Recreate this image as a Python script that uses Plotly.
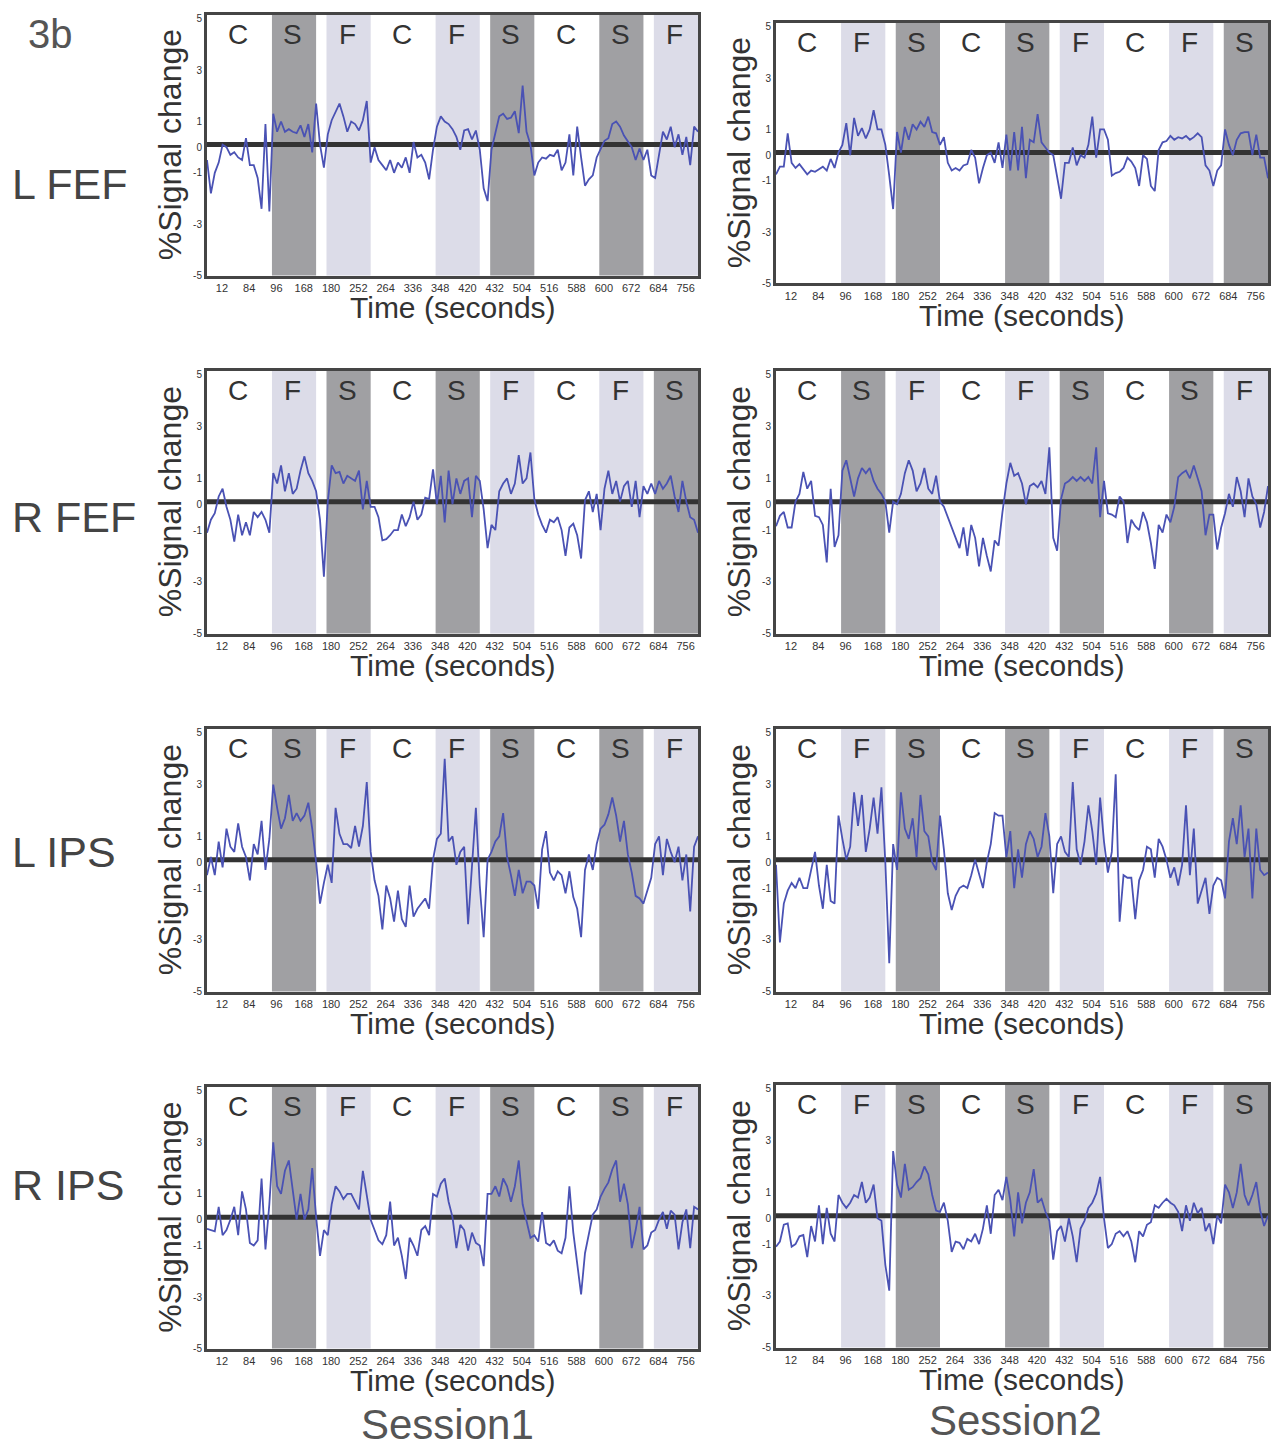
import numpy as np
import plotly.graph_objects as go

W, H = 1285, 1450

# ---------------- data ----------------
time_s = np.arange(0, 757, 6)  # sample times (s)

block_start = [12, 96, 180, 264, 348, 432, 516, 600, 684]
block_end = [84, 168, 252, 336, 420, 504, 588, 672, 756]
tick_labels = ["12", "84", "96", "168", "180", "252", "264", "336", "348",
               "420", "432", "504", "516", "588", "600", "672", "684", "756"]
y_ticks = [-5, -3, -1, 0, 1, 3, 5]

order_A = ["C", "S", "F", "C", "F", "S", "C", "S", "F"]
order_B = ["C", "F", "S", "C", "S", "F", "C", "F", "S"]

regions = ["L FEF", "R FEF", "L IPS", "R IPS"]
sessions = ["Session1", "Session2"]

lfef_s1 = [-0.5, -1.8, -1.0, -0.6, 0.1, 0.0, -0.3, -0.2, -0.4, -0.5,
           0.35, -0.7, -0.7, -1.2, -2.4, 0.9, -2.5, 1.3, 0.6, 1.0,
           0.6, 0.7, 0.6, 0.55, 0.85, 0.4, 0.9, -0.2, 1.7, 0.1,
           -0.8, 0.5, 1.05, 1.4, 1.7, 1.2, 0.6, 1.0, 0.9, 0.65,
           1.05, 1.8, -0.6, 0.0, -0.5, -0.7, -0.9, -0.5, -1.0, -0.6,
           -0.8, -0.4, -1.0, 0.2, -0.4, -0.3, -0.6, -1.25, -0.1, 0.8,
           1.2, 1.0, 0.9, 0.7, 0.4, -0.1, 0.65, 0.7, 0.3, 0.65,
           -0.1, -1.6, -2.1, -0.1, 0.6, 1.2, 1.3, 1.1, 1.15, 1.4,
           0.55, 2.4, 0.6, 0.1, -1.1, -0.6, -0.4, -0.45, -0.3, -0.35,
           -0.1, -0.9, -0.6, 0.5, -1.1, 0.8, -0.4, -1.5, -1.25, -1.1,
           -0.4, -0.1, 0.25, 0.35, 0.9, 1.0, 0.8, 0.45, 0.2, 0.0,
           -0.5, -0.05, -0.5, -0.1, -1.1, -1.2, -0.3, 0.6, 0.3, 0.8,
           0.0, 0.5, -0.3, 0.4, -0.7, 0.8, 0.6]

lfef_s2 = [-0.75, -0.45, -0.45, 0.85, -0.3, -0.5, -0.35, -0.55, -0.75, -0.6,
           -0.65, -0.55, -0.45, -0.6, -0.15, -0.5, 0.1, 0.4, 1.25, 0.0,
           1.45, 0.75, 1.05, 0.65, 1.0, 1.75, 1.0, 1.0, 0.4, -0.8,
           -2.1, 0.9, 0.1, 1.1, 0.6, 1.2, 1.0, 1.3, 1.1, 1.5,
           0.9, 0.85, 0.4, 0.7, -0.3, -0.6, -0.5, -0.6, -0.4, -0.35,
           0.2, -0.1, -1.1, -0.5, 0.0, 0.1, -0.3, 0.5, -0.5, 0.8,
           -0.6, 0.9, -0.6, 1.1, -0.9, 0.6, 0.5, 1.6, 0.5, 0.3,
           0.1, 0.0, -0.9, -1.7, -0.3, -0.3, 0.3, -0.4, 0.0, -0.1,
           0.4, 1.5, -0.1, 1.0, 1.0, 0.6, -0.8, -0.7, -0.65, -0.5,
           -0.1, -0.25, -0.5, -1.2, 0.0, -0.15, -1.2, -1.4, 0.2, 0.5,
           0.55, 0.75, 0.6, 0.7, 0.65, 0.75, 0.6, 0.7, 0.85, 0.7,
           -0.4, -0.6, -1.2, -0.6, -0.4, 1.0, 0.4, 0.0, 0.6, 0.85,
           0.9, 0.9, 0.0, 0.8, -0.1, -0.1, -0.9]

rfef_s1 = [-1.1, -0.6, -0.35, 0.3, 0.6, -0.1, -0.6, -1.45, -0.4, -1.2,
           -0.7, -1.2, -0.3, -0.5, -0.3, -0.6, -1.1, 1.2, 0.8, 1.5,
           0.5, 1.2, 0.4, 0.6, 1.3, 1.85, 1.2, 0.9, 0.5, -0.6,
           -2.8, 0.1, 1.5, 1.2, 1.25, 0.8, 1.1, 1.0, 0.9, 1.3,
           -0.2, 0.9, -0.1, -0.1, -0.5, -1.4, -1.35, -1.2, -1.0, -1.0,
           -0.4, -0.85, -0.5, 0.1, -0.6, -0.4, 0.25, 0.2, 1.35, 0.0,
           1.1, -0.7, 1.3, 0.0, 1.0, 0.4, 0.9, 1.0, -0.5, 1.1,
           0.9, -0.2, -1.7, -0.8, -1.0, 0.5, 0.8, 1.0, 0.4, 0.8,
           1.9, 0.8, 1.0, 2.0, 0.2, -0.4, -0.8, -1.1, -0.6, -0.7,
           -0.5, -1.0, -2.0, -0.9, -0.75, -1.2, -2.1, 0.15, 0.5, -0.3,
           0.4, -1.0, 0.6, 1.3, 0.4, 0.9, 0.1, 0.7, 0.9, -0.1,
           0.9, -0.5, 0.7, 0.4, 0.8, 0.4, 0.9, 0.6, 0.8, 1.1,
           0.3, -0.3, 0.9, 0.1, -0.5, -0.6, -1.1]

rfef_s2 = [-0.85, -0.45, -0.3, -0.9, -0.9, 0.1, 0.4, 1.25, 0.6, 0.9,
           -0.45, -0.5, -0.8, -2.25, 0.6, -1.65, -1.2, 1.3, 1.7, 1.0,
           0.3, 1.0, 1.4, 1.2, 1.4, 0.9, 0.6, 0.4, 0.1, -1.1,
           0.1, 0.0, 0.4, 1.2, 1.7, 1.3, 0.5, 0.8, 1.4, 0.6,
           0.4, 1.1, 0.1, -0.1, -0.5, -0.9, -1.35, -1.7, -0.9, -2.0,
           -0.8, -1.3, -2.4, -1.3, -2.0, -2.6, -1.4, -1.6, -0.3, 0.8,
           1.6, 1.1, 1.2, 0.8, 0.0, 0.7, 0.8, 0.65, 0.9, 0.4,
           2.2, -1.3, -1.8, 0.2, 0.8, 0.9, 1.05, 0.9, 1.05, 0.9,
           1.05, 0.8, 2.2, -0.5, 0.9, -0.35, -0.4, -0.5, 0.3, 0.1,
           -1.5, -0.6, -0.85, -1.0, -0.3, -0.7, -1.5, -2.5, -0.8, -1.1,
           -0.4, -0.7, -0.1, 1.05, 1.2, 1.3, 1.0, 1.5, 1.0, 0.5,
           -1.2, -0.4, -0.4, -1.75, -0.9, -0.35, 0.4, -0.1, 1.05, 0.5,
           -0.5, 1.0, 0.3, 0.0, -0.9, -0.3, 0.7]

lips_s1 = [-0.5, 0.2, -0.5, 0.8, -0.2, 1.3, 0.6, 0.4, 1.5, 0.6,
           0.2, -0.7, 0.7, 0.3, 1.6, -0.3, 0.9, 3.0, 2.1, 1.3,
           1.7, 2.6, 1.6, 1.9, 1.6, 1.8, 2.3, 1.3, 0.0, -1.6,
           -0.8, -0.1, -0.8, 2.1, 1.1, 0.7, 0.7, 0.55, 1.4, 0.6,
           1.4, 3.1, 0.4, -0.7, -1.3, -2.6, -0.9, -1.4, -2.3, -1.1,
           -2.2, -2.5, -0.9, -2.1, -1.8, -1.6, -1.4, -1.8, 0.1, 0.9,
           1.1, 4.0, 0.8, 1.0, -0.1, 0.4, 0.6, -2.4, -0.3, 2.1,
           -0.9, -2.9, 0.1, 0.4, 0.8, 1.0, 1.9, 0.2, -0.5, -1.3,
           -0.3, -1.2, -0.75, -0.75, -0.9, -1.8, 0.5, 1.2, -0.4, -0.7,
           -0.35, -0.5, -1.2, -0.35, -1.35, -1.8, -2.9, -0.3, 0.3, -0.3,
           0.7, 1.3, 1.45, 1.85, 2.5, 1.8, 0.8, 1.6, 0.3, -0.4,
           -1.3, -1.4, -1.6, -1.1, -0.6, 0.7, 1.0, -0.5, 0.9, 0.4,
           0.0, 0.6, -0.7, 0.3, -1.9, 0.6, 1.0]

lips_s2 = [-0.1, -3.1, -1.6, -1.1, -0.8, -1.0, -0.6, -1.0, -1.0, -0.3,
           0.4, -0.9, -1.8, -0.1, -1.5, -1.6, 1.8, 0.9, 0.1, 0.6,
           2.7, 1.4, 2.6, 0.4, 1.3, 2.5, 1.1, 2.9, 0.0, -3.9,
           0.7, -0.3, 2.7, 1.3, 0.9, 1.7, 0.2, 2.6, 1.2, 1.0,
           0.0, -0.3, 1.8, 0.5, -1.2, -1.85, -1.3, -1.0, -0.9, -1.0,
           -0.5, 0.1, -0.5, -1.0, 0.0, 0.7, 1.9, 1.8, 1.8, 0.2,
           1.2, -1.0, 0.5, -0.6, 0.7, 1.2, 0.9, 0.2, 0.6, 1.9,
           1.0, -1.2, 0.7, 1.0, 0.4, 0.2, 3.1, 0.5, -0.1, 0.8,
           2.2, 1.2, -0.1, 2.5, 0.8, -0.4, 0.4, 3.4, -2.3, -0.5,
           -0.6, -0.6, -2.2, -0.7, -0.3, 0.6, 0.5, -0.6, 0.9, 0.6,
           0.1, -0.6, -0.2, -0.9, -0.1, 2.2, -0.5, 1.3, -1.6, -1.1,
           -0.6, -2.0, -0.9, -0.6, -0.7, -1.4, 0.8, 1.7, 0.7, 2.2,
           0.2, 1.3, -1.4, 1.3, -0.3, -0.5, -0.4]

rips_s1 = [-0.35, -0.4, -0.45, 0.5, -0.6, -0.4, 0.0, 0.5, -0.6, 1.1,
           0.4, -0.9, -1.0, -0.8, 1.6, -1.15, 0.6, 3.0, 1.3, 1.0,
           1.9, 2.3, 1.1, 0.0, 1.0, 0.0, 0.4, 2.0, 0.1, -1.4,
           -0.4, -0.6, 0.6, 1.3, 1.1, 0.8, 1.0, 1.0, 0.7, 0.4,
           1.9, 1.0, 0.0, -0.4, -0.8, -0.95, -0.6, 0.7, -1.0, -0.7,
           -1.4, -2.3, -0.7, -1.0, -1.4, -0.4, -0.25, -0.6, 1.0, 0.9,
           1.4, 1.6, 0.7, 0.1, -1.1, -0.2, -0.4, -1.2, -0.5, -0.9,
           -1.0, -1.8, 1.0, 1.0, 1.3, 0.9, 1.6, 1.3, 0.7, 1.3,
           2.3, 0.6, 0.0, -0.7, -0.6, -0.85, 0.3, -0.9, -1.0, -0.8,
           -1.2, -1.3, -0.7, 1.3, -0.5, -1.6, -2.9, -1.3, -0.6, 0.2,
           0.4, 0.9, 1.2, 1.45, 1.95, 2.3, 0.7, 1.4, 0.6, -1.1,
           -0.4, 0.5, -1.15, -1.0, -0.5, -0.4, 0.0, 0.3, -0.35, 0.35,
           0.2, -1.15, -0.1, 0.4, -1.1, 0.5, 0.4]

rips_s2 = [-1.1, -0.9, -0.25, -0.2, -1.1, -1.0, -0.7, -0.65, -1.5, -0.3,
           -0.9, 0.5, -1.0, 0.4, -0.6, -0.9, 0.9, 0.6, 0.4, 0.6,
           0.9, 0.8, 1.4, 0.6, 0.8, 1.3, 0.0, -0.1, -1.8, -2.8,
           2.6, 1.3, 0.8, 2.1, 1.1, 1.2, 1.4, 1.55, 2.0, 1.7,
           0.9, 0.3, 0.25, 0.6, -0.1, -1.3, -0.9, -0.95, -1.2, -0.8,
           -0.9, -0.6, -1.0, -0.4, 0.5, -0.6, 0.9, 1.1, 0.7, 1.6,
           0.7, -0.7, 1.0, -0.2, 0.6, 1.0, 1.9, 0.6, 0.75, 0.25,
           -0.1, -1.6, -0.5, -0.3, -0.9, 0.0, -0.7, -1.7, -0.4, -0.1,
           0.4, 0.6, 0.95, 1.6, 0.0, -1.15, -1.0, -0.6, -0.5, -0.7,
           -0.5, -0.9, -1.7, -0.5, -0.7, -0.25, -0.15, 0.5, 0.4, 0.6,
           0.75, 0.6, 0.5, 0.25, -0.5, 0.5, -0.1, 0.6, 0.2, 0.4,
           -0.5, -0.2, -1.0, 0.1, -0.2, 1.3, 1.0, 0.4, 1.0, 2.1,
           0.9, 0.5, 0.9, 1.4, 0.3, -0.3, 0.1]

panels = [
    (0, 0, order_A, lfef_s1), (0, 1, order_B, lfef_s2),
    (1, 0, order_B, rfef_s1), (1, 1, order_A, rfef_s2),
    (2, 0, order_A, lips_s1), (2, 1, order_B, lips_s2),
    (3, 0, order_A, rips_s1), (3, 1, order_B, rips_s2),
]

# ---------------- layout geometry (pixels, page coords) ----------------
col_x = [(207, 698), (776, 1268)]
row_y = [[(13, 275), (21, 283)],
         [(371, 635), (371, 635)],
         [(731, 995), (731, 995)],
         [(1091, 1354), (1089, 1353)]]

OFF = 8  # default page margin of the html body
FONT = "Liberation Sans, Arial, sans-serif"
LINE_BLUE = "#4a52b4"
S_FILL = "#a0a0a3"
F_FILL = "#dcdce8"
FRAME = "#454545"
BASE_Y = 0.1

def px_x(x):
    return (x - OFF) / W

def px_y(y):
    return 1 - (y - OFF) / H

fig = go.Figure()
layout = dict(width=W, height=H, margin=dict(l=0, r=0, t=0, b=0),
              paper_bgcolor="white", plot_bgcolor="white", showlegend=False,
              font=dict(family=FONT, color="#333"))
shapes = []
annotations = []

tickvals = []
for s, e in zip(block_start, block_end):
    tickvals += [s + 11, e - 19]

for i, (r, c, order, vals) in enumerate(panels):
    n = "" if i == 0 else str(i + 1)
    xa, ya = "x" + n, "y" + n
    x0, x1 = col_x[c]
    y0, y1 = row_y[r][c]
    layout["xaxis" + n] = dict(
        domain=[px_x(x0), px_x(x1)], range=[0, 756], anchor=ya,
        tickvals=tickvals, ticktext=tick_labels, ticks="",
        tickfont=dict(size=11, color="#333"),
        showline=True, mirror=True, linecolor=FRAME, linewidth=3,
        showgrid=False, zeroline=False, fixedrange=True)
    layout["yaxis" + n] = dict(
        domain=[px_y(y1), px_y(y0)], range=[-5, 5.15], anchor=xa,
        tickvals=y_ticks, ticktext=[str(v) for v in y_ticks], ticks="",
        tickfont=dict(size=10, color="#333"),
        showline=True, mirror=True, linecolor=FRAME, linewidth=3,
        showgrid=False, zeroline=False, fixedrange=True)

    for s, e, lab in zip(block_start, block_end, order):
        if lab in ("S", "F"):
            shapes.append(dict(type="rect", xref=xa, yref=ya + " domain",
                               x0=s + 4, x1=e, y0=0, y1=1, layer="below",
                               fillcolor=S_FILL if lab == "S" else F_FILL,
                               line=dict(width=0)))
        annotations.append(dict(xref=xa, yref=ya + " domain",
                                x=(s + e) / 2, y=0.925, text=lab,
                                showarrow=False, xanchor="center",
                                yanchor="middle",
                                font=dict(size=28, color="#333")))
    shapes.append(dict(type="line", xref=xa, yref=ya, x0=0, x1=756,
                       y0=BASE_Y, y1=BASE_Y, layer="below",
                       line=dict(color="#333", width=5)))

    fig.add_trace(go.Scatter(x=time_s, y=vals, mode="lines", xaxis=xa,
                             yaxis=ya, line=dict(color=LINE_BLUE, width=1.8),
                             hoverinfo="skip"))

    # axis titles
    annotations.append(dict(xref="paper", yref="paper",
                            x=px_x((x0 + x1) / 2), y=px_y(y1 + 32),
                            text="Time (seconds)", showarrow=False,
                            xanchor="center", yanchor="middle",
                            font=dict(size=30, color="#333")))
    annotations.append(dict(xref="paper", yref="paper",
                            x=px_x(x0 - 37), y=px_y((y0 + y1) / 2),
                            text="%Signal change", showarrow=False,
                            textangle=-90, xanchor="center", yanchor="middle",
                            font=dict(size=32, color="#333")))

row_label_y = [183, 518, 855, 1190]
for name, yy in zip(regions, row_label_y):
    annotations.append(dict(xref="paper", yref="paper", x=px_x(10),
                            y=px_y(yy), text=name, showarrow=False,
                            xanchor="left", yanchor="middle",
                            font=dict(size=43, color="#444")))

for name, xx, yy in zip(sessions, [447, 1015], [1430, 1426]):
    annotations.append(dict(xref="paper", yref="paper", x=px_x(xx),
                            y=px_y(yy), text=name, showarrow=False,
                            xanchor="center", yanchor="middle",
                            font=dict(size=42, color="#555")))

annotations.append(dict(xref="paper", yref="paper", x=px_x(26), y=1.0,
                        text="3b", showarrow=False, xanchor="left",
                        yanchor="top", font=dict(size=40, color="#555")))

layout["shapes"] = shapes
layout["annotations"] = annotations
fig.update_layout(**layout)
fig.write_html("out.html")
